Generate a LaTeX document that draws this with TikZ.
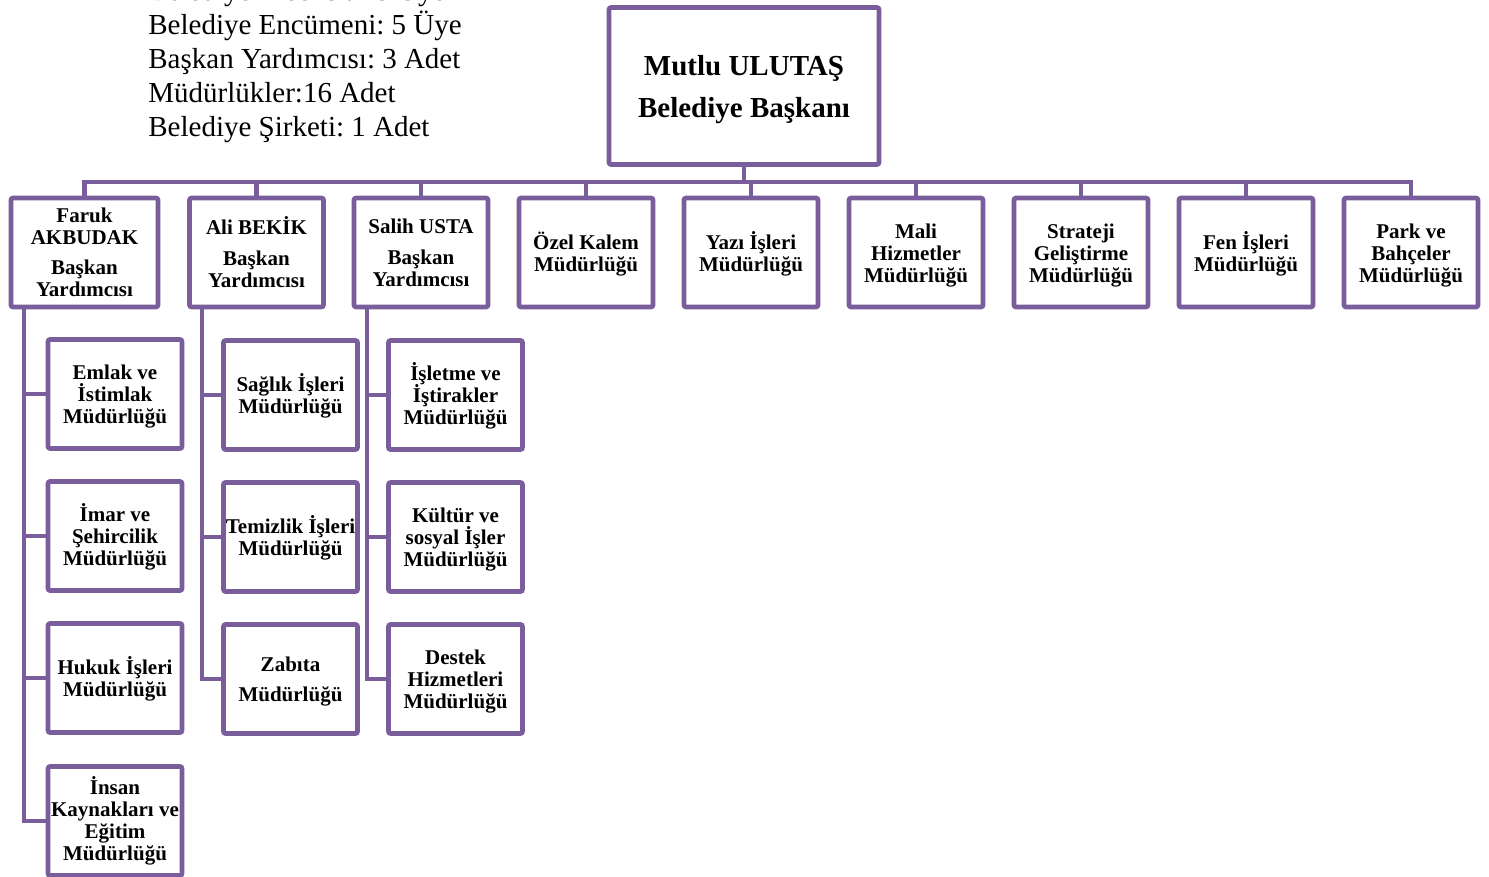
\documentclass[tikz,border=0pt]{standalone}
\usepackage{fontspec}
\setmainfont{Liberation Serif}
\definecolor{orgpurple}{RGB}{122,94,155}
\newcommand\deptstrut{\rule{0pt}{10.2pt}}
\newcommand\mayorstrut{\rule{0pt}{13.9pt}}
\newcommand\evenlines{\lineskiplimit=-20pt\relax}

\begin{document}
\begin{tikzpicture}[x=0.5pt, y=-0.5pt,
    unit/.style={rectangle, draw=orgpurple, line width=2.3pt, fill=white,
        rounded corners=1pt, minimum width=67pt, minimum height=54.5pt,
        inner sep=0pt, align=center,
        font=\bfseries\fontsize{10.5}{11}\selectfont\evenlines},
    mayor/.style={unit, minimum width=135pt, minimum height=78.5pt,
        font=\bfseries\fontsize{14.5}{21}\selectfont},
    link/.style={draw=orgpurple, line width=2.4pt}
]
    \useasboundingbox (0,0) rectangle (1489,877);

    \node[anchor=west, align=left, inner sep=0pt,
        font=\frenchspacing\fontsize{14.5}{17}\selectfont] (council) at (148,60)
        {Belediye Meclisi: 25 Üye\\Belediye Encümeni: 5 Üye\\Başkan Yardımcısı: 3 Adet\\Müdürlükler:16 Adet\\Belediye Şirketi: 1 Adet};

    \node[mayor] (mayor) at (744,86) {\mayorstrut Mutlu ULUTAŞ\\Belediye Başkanı};

    \node[unit, minimum width=73.5pt] (faruk) at (84.5,252.5) {Faruk\\AKBUDAK\\[4pt]Başkan\\Yardımcısı};
    \node[unit] (ali) at (256.5,252.5) {Ali BEKİK\\[4.5pt]Başkan\\Yardımcısı};
    \node[unit] (salih) at (421,252.5) {Salih USTA\\[4.5pt]Başkan\\Yardımcısı};
    \node[unit] (ozel) at (586,252.5) {\deptstrut Özel Kalem\\Müdürlüğü};
    \node[unit] (yazi) at (751,252.5) {\deptstrut Yazı İşleri\\Müdürlüğü};
    \node[unit] (mali) at (916,252.5) {\deptstrut Mali\\Hizmetler\\Müdürlüğü};
    \node[unit] (strateji) at (1081,252.5) {\deptstrut Strateji\\Geliştirme\\Müdürlüğü};
    \node[unit] (fen) at (1246,252.5) {\deptstrut Fen İşleri\\Müdürlüğü};
    \node[unit] (park) at (1411,252.5) {\deptstrut Park ve\\Bahçeler\\Müdürlüğü};

    % Faruk AKBUDAK
    \node[unit] (emlak) at (115,394) {\deptstrut Emlak ve\\İstimlak\\Müdürlüğü};
    \node[unit] (imar) at (115,536) {\deptstrut İmar ve\\Şehircilik\\Müdürlüğü};
    \node[unit] (hukuk) at (115,678) {\deptstrut Hukuk İşleri\\Müdürlüğü};
    \node[unit] (insan) at (115,821) {İnsan\\Kaynakları ve\\Eğitim\\Müdürlüğü};

    % Ali BEKİK
    \node[unit] (saglik) at (290.5,395) {\deptstrut Sağlık İşleri\\Müdürlüğü};
    \node[unit] (temizlik) at (290.5,537) {\deptstrut Temizlik İşleri\\Müdürlüğü};
    \node[unit] (zabita) at (290.5,679) {\deptstrut Zabıta\\[4pt]Müdürlüğü};

    % Salih USTA
    \node[unit] (isletme) at (455.5,395) {\deptstrut İşletme ve\\İştirakler\\Müdürlüğü};
    \node[unit] (kultur) at (455.5,537) {\deptstrut Kültür ve\\sosyal İşler\\Müdürlüğü};
    \node[unit] (destek) at (455.5,679) {\deptstrut Destek\\Hizmetleri\\Müdürlüğü};

    \coordinate (bus) at (0,182);
    \coordinate (fspine) at (24,0);
    \coordinate (aspine) at (202,0);
    \coordinate (sspine) at (367,0);

    \draw[link] (mayor.south) -- (mayor.south |- bus) -| (faruk.north);
    \draw[link] (mayor.south) -- (mayor.south |- bus) -| (ali.north);
    \draw[link] (mayor.south) -- (mayor.south |- bus) -| (salih.north);
    \draw[link] (mayor.south) -- (mayor.south |- bus) -| (ozel.north);
    \draw[link] (mayor.south) -- (mayor.south |- bus) -| (yazi.north);
    \draw[link] (mayor.south) -- (mayor.south |- bus) -| (mali.north);
    \draw[link] (mayor.south) -- (mayor.south |- bus) -| (strateji.north);
    \draw[link] (mayor.south) -- (mayor.south |- bus) -| (fen.north);
    \draw[link] (mayor.south) -- (mayor.south |- bus) -| (park.north);

    \draw[link] (faruk.south -| fspine) |- (emlak.west);
    \draw[link] (faruk.south -| fspine) |- (imar.west);
    \draw[link] (faruk.south -| fspine) |- (hukuk.west);
    \draw[link] (faruk.south -| fspine) |- (insan.west);

    \draw[link] (ali.south -| aspine) |- (saglik.west);
    \draw[link] (ali.south -| aspine) |- (temizlik.west);
    \draw[link] (ali.south -| aspine) |- (zabita.west);

    \draw[link] (salih.south -| sspine) |- (isletme.west);
    \draw[link] (salih.south -| sspine) |- (kultur.west);
    \draw[link] (salih.south -| sspine) |- (destek.west);
\end{tikzpicture}
\end{document}
